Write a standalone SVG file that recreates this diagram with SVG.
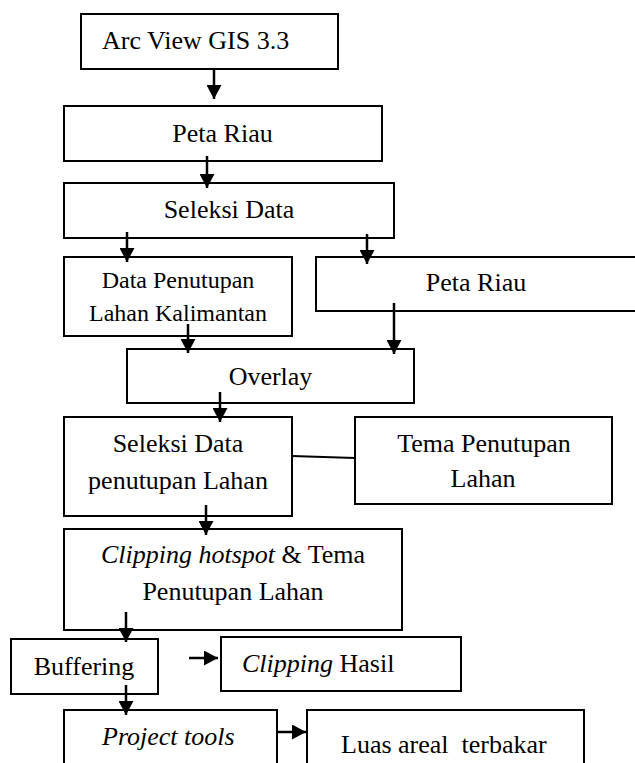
<svg xmlns="http://www.w3.org/2000/svg" width="635" height="763" viewBox="0 0 635 763">
<defs>
<marker id="ah" markerUnits="userSpaceOnUse" markerWidth="15" markerHeight="15" refX="14" refY="7.5" orient="auto">
<path d="M0,0 L14,7.5 L0,15 z" fill="#000"/>
</marker>
</defs>
<style>
rect{fill:#fff;stroke:#000;stroke-width:2}
text{font-family:"Liberation Serif","Times New Roman",serif;font-size:26px;fill:#000}
.s{font-size:24px}
.c{text-anchor:middle}
.i{font-style:italic}
.a{stroke:#000;stroke-width:2.5;fill:none;marker-end:url(#ah)}
.l{stroke:#000;stroke-width:2;fill:none}
</style>
<rect x="0" y="0" width="635" height="763" style="fill:#fff;stroke:none"/>
<g id="n1"><rect x="81" y="14" width="257" height="55"/><text x="102" y="49">Arc View GIS 3.3</text></g>
<g id="n2"><rect x="64" y="106" width="318" height="55"/><text x="222.5" y="142" class="c">Peta Riau</text></g>
<g id="n3"><rect x="64" y="183" width="330" height="55"/><text x="229" y="218" class="c">Seleksi Data</text></g>
<g id="n4"><rect x="64" y="257" width="228" height="79"/><text x="178" y="288" class="c s">Data Penutupan</text><text x="178" y="321" class="c s">Lahan Kalimantan</text></g>
<g id="n5"><rect x="316" y="257" width="330" height="54"/><text x="476" y="291" class="c">Peta Riau</text></g>
<g id="n6"><rect x="127" y="349" width="287" height="54"/><text x="270.5" y="385" class="c">Overlay</text></g>
<g id="n7"><rect x="64" y="417" width="228" height="99"/><text x="178" y="452" class="c">Seleksi Data</text><text x="178" y="489" class="c">penutupan Lahan</text></g>
<g id="n8"><rect x="355" y="417" width="257" height="87"/><text x="484" y="452" class="c">Tema Penutupan</text><text x="483" y="487" class="c">Lahan</text></g>
<g id="n9"><rect x="64" y="529" width="338" height="101"/><text x="233" y="563" class="c"><tspan class="i">Clipping hotspot</tspan> &amp; Tema</text><text x="233" y="600" class="c">Penutupan Lahan</text></g>
<g id="n10"><rect x="11" y="639" width="147" height="55"/><text x="84" y="675" class="c">Buffering</text></g>
<g id="n11"><rect x="221" y="637" width="240" height="54"/><text x="242" y="672"><tspan class="i">Clipping</tspan> Hasil</text></g>
<g id="n12"><rect x="64" y="710" width="213" height="70"/><text x="102" y="745" class="i">Project tools</text></g>
<g id="n13"><rect x="307" y="710" width="277" height="70"/><text x="341" y="753" xml:space="preserve">Luas areal  terbakar</text></g>
<g id="connectors">
<line class="a" x1="214" y1="69" x2="214" y2="99"/>
<line class="a" x1="207" y1="156" x2="207" y2="188"/>
<line class="a" x1="127" y1="232" x2="127" y2="262"/>
<line class="a" x1="367" y1="234" x2="367" y2="264"/>
<line class="a" x1="188" y1="324" x2="188" y2="353"/>
<line class="a" x1="394" y1="303" x2="394" y2="354"/>
<line class="a" x1="220" y1="392" x2="220" y2="422"/>
<line class="l" x1="292" y1="456" x2="355" y2="458"/>
<line class="a" x1="206" y1="505" x2="206" y2="535"/>
<line class="a" x1="126" y1="612" x2="126" y2="642"/>
<line class="a" x1="189" y1="658" x2="218" y2="658"/>
<line class="a" x1="126" y1="685" x2="126" y2="715"/>
<line class="a" x1="277" y1="732" x2="306" y2="732"/>
</g>
</svg>
